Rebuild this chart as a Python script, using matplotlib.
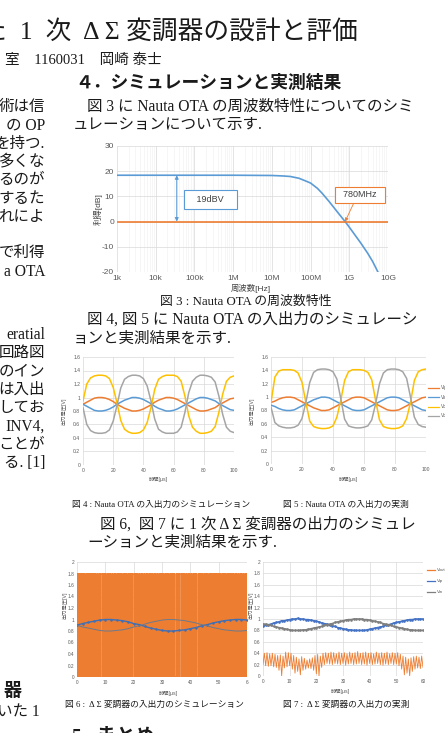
import numpy as np
import matplotlib
matplotlib.use('Agg')
import matplotlib.pyplot as plt
from matplotlib.lines import Line2D
from matplotlib.ticker import LogLocator, NullFormatter

plt.rcParams['axes.unicode_minus'] = False

W, H = 445, 733
SERIF = ['Liberation Serif', 'Noto Sans CJK JP']
SANS = ['Liberation Sans', 'Noto Sans CJK JP']

# ---- fig 3 : Nauta OTA gain vs frequency ----
freq_hz = [1e3, 1e4, 1e5, 1e6, 1e7, 2e7, 3e7, 5e7, 7e7, 1e8, 1.5e8, 2e8, 3e8,
           5e8, 7.8e8, 1e9, 2e9, 3e9, 4e9, 5.5e9, 6e9]
gain_db = [18.4, 18.4, 18.4, 18.4, 18.3, 18.1, 17.9, 17.2, 16.3, 15.3, 13.2,
           11.2, 8.0, 3.7, 0.0, -2.2, -8.6, -12.6, -15.8, -20.0, -21.6]
zero_db = 0.0
freq_ticks = [1e3, 1e4, 1e5, 1e6, 1e7, 1e8, 1e9, 1e10]
freq_labels = ['1k', '10k', '100k', '1M', '10M', '100M', '1G', '10G']
gain_label = '19dBV'
ugf_label = '780MHz'

# ---- fig 4 : Nauta OTA simulation, t = 0..100 us ----
sim_in_p = [0.90, 0.93, 0.96, 0.99, 1.00, 1.00, 0.99, 0.97, 0.94, 0.90,
            0.87, 0.84, 0.82, 0.80, 0.80, 0.81, 0.83, 0.86, 0.89, 0.93,
            0.96, 0.98, 1.00, 1.00, 0.99, 0.97, 0.94, 0.91, 0.88, 0.85,
            0.82, 0.80, 0.80, 0.81, 0.83, 0.85, 0.89, 0.92, 0.95, 0.98, 0.99]
sim_in_n = [0.90, 0.87, 0.84, 0.81, 0.80, 0.80, 0.81, 0.83, 0.86, 0.90,
            0.93, 0.96, 0.98, 1.00, 1.00, 0.99, 0.97, 0.94, 0.91, 0.87,
            0.84, 0.82, 0.80, 0.80, 0.81, 0.83, 0.86, 0.89, 0.92, 0.95,
            0.98, 1.00, 1.00, 0.99, 0.97, 0.95, 0.91, 0.88, 0.85, 0.82, 0.81]
sim_out_p = [0.95, 1.20, 1.29, 1.32, 1.33, 1.33, 1.32, 1.28, 1.15, 0.92,
             0.66, 0.53, 0.49, 0.47, 0.47, 0.48, 0.52, 0.63, 0.85, 1.12,
             1.27, 1.31, 1.33, 1.33, 1.33, 1.31, 1.24, 1.02, 0.73, 0.56,
             0.50, 0.47, 0.47, 0.48, 0.50, 0.57, 0.78, 1.05, 1.24, 1.30, 1.32]
sim_out_n = [0.85, 0.60, 0.51, 0.48, 0.47, 0.47, 0.48, 0.52, 0.65, 0.88,
             1.14, 1.27, 1.31, 1.33, 1.33, 1.32, 1.28, 1.17, 0.95, 0.68,
             0.53, 0.49, 0.47, 0.47, 0.47, 0.49, 0.56, 0.78, 1.07, 1.24,
             1.30, 1.33, 1.33, 1.32, 1.30, 1.23, 1.02, 0.75, 0.56, 0.50, 0.48]

# ---- fig 5 : Nauta OTA measurement, t = 0..100 us ----
meas_in_p = [0.92, 0.94, 0.97, 0.99, 1.00, 1.00, 0.99, 0.96, 0.93, 0.90,
             0.87, 0.84, 0.82, 0.80, 0.80, 0.81, 0.84, 0.87, 0.90, 0.93,
             0.96, 0.99, 1.00, 1.00, 0.99, 0.96, 0.93, 0.90, 0.87, 0.84,
             0.81, 0.80, 0.80, 0.81, 0.84, 0.87, 0.90, 0.93, 0.96, 0.99, 1.00]
meas_in_n = [0.88, 0.86, 0.83, 0.81, 0.80, 0.80, 0.81, 0.84, 0.87, 0.90,
             0.93, 0.96, 0.98, 1.00, 1.00, 0.99, 0.96, 0.93, 0.90, 0.87,
             0.84, 0.81, 0.80, 0.80, 0.81, 0.84, 0.87, 0.90, 0.93, 0.96,
             0.99, 1.00, 1.00, 0.99, 0.96, 0.93, 0.90, 0.87, 0.84, 0.81, 0.80]
meas_out_p = [0.92, 1.30, 1.39, 1.41, 1.41, 1.41, 1.40, 1.36, 1.22, 0.92,
              0.64, 0.56, 0.54, 0.53, 0.53, 0.54, 0.57, 0.70, 0.95, 1.25,
              1.38, 1.41, 1.41, 1.41, 1.40, 1.37, 1.26, 0.95, 0.66, 0.56,
              0.54, 0.53, 0.53, 0.54, 0.57, 0.68, 0.92, 1.25, 1.38, 1.41, 1.42]
meas_out_n = [0.85, 0.62, 0.57, 0.55, 0.54, 0.54, 0.55, 0.58, 0.68, 0.92,
              1.22, 1.37, 1.41, 1.42, 1.42, 1.41, 1.38, 1.27, 0.98, 0.67,
              0.57, 0.55, 0.54, 0.54, 0.55, 0.57, 0.66, 0.90, 1.20, 1.36,
              1.41, 1.42, 1.42, 1.41, 1.38, 1.28, 1.00, 0.70, 0.59, 0.56, 0.55]
ota_legend = ['Vip', 'Vin', 'Vop', 'Von']

# ---- fig 6 : delta-sigma simulation, t = 0..60 us ----
ds_bits = ("101010110101001010101101010100101011010101010010101101010101"
           "010110101010010101011010101001010101101010100101010110101010"
           "100101010110101010010101011010101001010101101010100101010110"
           "101010010101011010101001010101101010100101010110101010010101")
ds_high = 1.8
sim_vip = [0.90, 0.93, 0.95, 0.97, 0.99, 1.00, 1.00, 0.99, 0.98, 0.96,
           0.93, 0.91, 0.88, 0.85, 0.83, 0.81, 0.80, 0.80, 0.81, 0.82,
           0.84, 0.86, 0.89, 0.91, 0.94, 0.96, 0.98, 0.99, 1.00, 1.00, 0.99]
sim_vin = [0.90, 0.87, 0.85, 0.83, 0.81, 0.80, 0.80, 0.81, 0.82, 0.84,
           0.87, 0.89, 0.92, 0.95, 0.97, 0.99, 1.00, 1.00, 0.99, 0.98,
           0.96, 0.94, 0.91, 0.89, 0.86, 0.84, 0.82, 0.81, 0.80, 0.80, 0.81]

# ---- fig 7 : delta-sigma measurement, t = 0..60 us ----
vout = [0.20, 0.40, 0.18, 0.41, 0.17, 0.39, 0.18, 0.40, 0.16, 0.38,
        0.15, 0.36, 0.10, 0.37, 0.00, 0.35, 0.14, 0.42, 0.16, 0.41,
        0.18, 0.40, 0.12, 0.36, 0.05, 0.33, 0.08, 0.30, 0.02, 0.34,
        0.10, 0.31, 0.12, 0.28, 0.14, 0.30, 0.13, 0.32, 0.10, 0.36,
        0.04, 0.38, 0.00, 0.35, 0.15, 0.40, 0.20, 0.41, 0.22, 0.40,
        0.21, 0.42, 0.20, 0.41, 0.22, 0.39, 0.21, 0.42, 0.20, 0.40,
        0.22, 0.41, 0.19, 0.39, 0.21, 0.42, 0.22, 0.40, 0.20, 0.41,
        0.21, 0.43, 0.22, 0.40, 0.20, 0.41, 0.21, 0.42, 0.19, 0.40,
        0.22, 0.41, 0.20, 0.39, 0.21, 0.42, 0.22, 0.40, 0.20, 0.41,
        0.19, 0.40, 0.21, 0.42, 0.20, 0.39, 0.22, 0.41, 0.20, 0.40,
        0.21, 0.41, 0.18, 0.38, 0.12, 0.35, 0.02, 0.33, 0.05, 0.30,
        0.00, 0.32, 0.08, 0.34, 0.12, 0.35, 0.14, 0.33, 0.13, 0.35, 0.15]
vip = [0.87, 0.89, 0.90, 0.91, 0.93, 0.94, 0.95, 0.97, 0.97, 0.98,
       0.99, 1.00, 1.00, 1.01, 1.00, 1.00, 0.99, 0.99, 0.98, 0.97,
       0.96, 0.95, 0.93, 0.92, 0.91, 0.89, 0.88, 0.87, 0.85, 0.84,
       0.83, 0.82, 0.81, 0.81, 0.80, 0.80, 0.80, 0.80, 0.80, 0.81,
       0.82, 0.83, 0.84, 0.85, 0.86, 0.87, 0.89, 0.90, 0.91, 0.93,
       0.94, 0.95, 0.96, 0.97, 0.98, 0.99, 0.99, 1.00, 1.00, 1.00, 1.00]
vin = [0.91, 0.91, 0.90, 0.89, 0.87, 0.86, 0.85, 0.84, 0.83, 0.82,
       0.81, 0.80, 0.80, 0.80, 0.80, 0.81, 0.81, 0.82, 0.83, 0.84,
       0.85, 0.86, 0.87, 0.89, 0.90, 0.91, 0.92, 0.94, 0.95, 0.96,
       0.97, 0.98, 0.99, 0.99, 1.00, 1.00, 1.00, 1.00, 0.99, 0.99,
       0.98, 0.97, 0.96, 0.95, 0.94, 0.92, 0.91, 0.90, 0.89, 0.87,
       0.86, 0.85, 0.84, 0.83, 0.82, 0.81, 0.81, 0.80, 0.80, 0.80, 0.80]
ds_legend = ['Vout', 'Vip', 'Vin']

ORANGE = '#ED7D31'
BLUE = '#5B9BD5'
YELLOW = '#FFC000'
GRAY = '#A5A5A5'
GRID = '#D9D9D9'
TICK = '#595959'


def box(l, t, r, b):
    return [l / W, 1 - b / H, (r - l) / W, (b - t) / H]


fig = plt.figure(figsize=(W / 100, H / 100), dpi=100)
fig.patch.set_facecolor('white')


def T(x, y, s, size=11.2, ha='left', family=SERIF, **kw):
    return fig.text(x / W, 1 - y / H, s, ha=ha, va='center', fontsize=size,
                    family=family, color=kw.pop('color', '#1a1a1a'), **kw)


def excel_style(ax, fs):
    for s in ax.spines.values():
        s.set_visible(False)
    ax.grid(True, color=GRID, lw=0.5)
    ax.set_axisbelow(True)
    ax.tick_params(length=0, labelsize=fs, colors=TICK, pad=2)
    for lab in ax.get_xticklabels() + ax.get_yticklabels():
        lab.set_family(SANS)


# ---------------- page text ----------------
T(358, 32, 'た  1  次  Δ Σ 変調器の設計と評価', size=18.5, ha='right')
T(162, 60, '室　1160031　岡崎 泰士', size=10.5, ha='right')
T(75, 83, '４．シミュレーションと実測結果', size=12.8, weight='bold')

T(87, 107, '図 3 に Nauta OTA の周波数特性についてのシミ')
T(73, 125.5, 'ュレーションについて示す.')

left_top = ['術は信', 'の OP', 'を持つ.', '多くな', 'るのが', 'するた', 'れによ',
            '', 'で利得', 'a OTA']
for i, s in enumerate(left_top):
    T(45, 107 + 18.3 * i, s, ha='right')
left_bot = ['eratial', '回路図', 'のイン', 'は入出', 'してお', 'INV4,',
            'ことが', 'る. [1]']
for i, s in enumerate(left_bot):
    T(45, 335 + 18.3 * i, s, ha='right')
T(22, 691, '器', size=13, ha='right', weight='bold')
T(40, 713, 'いた 1', ha='right')

T(160, 302, '図 3 : Nauta OTA の周波数特性', size=9.3)
T(87, 320, '図 4, 図 5 に Nauta OTA の入出力のシミュレーシ')
T(73, 339, 'ョンと実測結果を示す.')
T(72, 505, '図 4 : Nauta OTA の入出力のシミュレーション', size=6.3)
T(283, 505, '図 5 : Nauta OTA の入出力の実測', size=6.3)
T(100, 525, '図 6,  図 7 に 1 次 Δ Σ 変調器の出力のシミュレ')
T(87, 543, 'ーションと実測結果を示す.')
T(65, 705, '図 6 :  Δ Σ 変調器の入出力のシミュレーション', size=6.3)
T(283, 705, '図 7 :  Δ Σ 変調器の入出力の実測', size=6.3)
T(72, 737, '5.  まとめ', size=14, weight='bold')

# ---------------- fig 3 ----------------
ax3 = fig.add_axes(box(117, 146, 388, 272))
ax3.semilogx(freq_hz, gain_db, color=BLUE, lw=1.2, zorder=3)
ax3.axhline(zero_db, color=ORANGE, lw=1.2, zorder=3)
ax3.set_xlim(1e3, 1e10)
ax3.set_ylim(-20, 30)
ax3.set_xticks(freq_ticks, freq_labels)
ax3.set_yticks(range(-20, 31, 10))
ax3.xaxis.set_minor_locator(LogLocator(base=10, subs=np.arange(2, 10)))
ax3.xaxis.set_minor_formatter(NullFormatter())
excel_style(ax3, 6)
ax3.grid(True, which='minor', axis='x', color='#EFEFEF', lw=0.4)
ax3.tick_params(which='minor', length=0)
ax3.annotate('', xy=(3.5e4, gain_db[0]), xytext=(3.5e4, zero_db),
             arrowprops=dict(arrowstyle='<|-|>', color=BLUE, lw=0.8,
                             mutation_scale=5, shrinkA=0, shrinkB=0))
ax3.text(2.6e5, 8.9, '   ' + gain_label + '   ', ha='center', va='center',
         fontsize=6.5, family=SANS, color='#404040', zorder=4,
         bbox=dict(boxstyle='square,pad=0.55', fc='white', ec=BLUE, lw=0.8))
ax3.text(1.85e9, 10.6, '  ' + ugf_label + '  ', ha='center', va='center',
         fontsize=6.5, family=SANS, color='#404040', zorder=4,
         bbox=dict(boxstyle='square,pad=0.35', fc='white', ec=ORANGE, lw=0.8))
ax3.annotate('', xy=(7.8e8, zero_db), xytext=(1.3e9, 7.3),
             arrowprops=dict(arrowstyle='-|>', color=ORANGE, lw=0.6,
                             mutation_scale=5, shrinkA=0, shrinkB=0))
T(98, 209, '利得[dB]', size=6, family=SANS, rotation=90, ha='center',
  color='#404040')
T(251, 288, '周波数[Hz]', size=6, family=SANS, ha='center', color='#404040')

# ---------------- fig 4 / fig 5 ----------------
ota_sets = [
    (box(83, 357, 234, 465), [sim_in_p, sim_in_n, sim_out_p, sim_out_n], 64, 158),
    (box(271, 357, 426, 464), [meas_in_p, meas_in_n, meas_out_p, meas_out_n], 252, 348),
]
ota_colors = [ORANGE, BLUE, YELLOW, GRAY]
for rect, series, ylab_x, xlab_x in ota_sets:
    ax = fig.add_axes(rect)
    for vals, c in zip(series, ota_colors):
        ax.plot(np.linspace(0, 100, len(vals)), vals, color=c, lw=1.1)
    ax.set_xlim(0, 100)
    ax.set_ylim(0, 1.6)
    ax.set_xticks(range(0, 101, 20))
    yt = np.round(np.arange(0, 1.61, 0.2), 1)
    ax.set_yticks(yt, ['%g' % v for v in yt])
    excel_style(ax, 3.6)
    T(ylab_x, 411, '出力電圧[V]', size=3.8, family=SANS, rotation=90,
      ha='center', color=TICK)
    T(xlab_x, 479, '時間[μs]', size=3.8, family=SANS, ha='center', color=TICK)

for i, (c, lab) in enumerate(zip(ota_colors, ota_legend)):
    y = 388 + 9.3 * i
    fig.add_artist(Line2D([428 / W, 439 / W], [1 - y / H] * 2, color=c, lw=0.9))
    T(441, y, lab, size=3.4, family=SANS, color=TICK)

# ---------------- fig 6 ----------------
ax6 = fig.add_axes(box(77, 562, 247, 677))
levels = [ds_high if b == '1' else 0.0 for b in ds_bits]
t_bits = np.linspace(0, 60, len(levels))
ax6.step(t_bits, levels, where='post', color=ORANGE, lw=1.2, zorder=2)
ax6.plot(np.linspace(0, 60, len(sim_vip)), sim_vip, color='#3F6FB5', lw=1.0,
         marker='.', ms=1.6, zorder=3)
ax6.plot(np.linspace(0, 60, len(sim_vin)), sim_vin, color='#6D7A8C', lw=0.7,
         zorder=3)
ax6.set_xlim(0, 60)
ax6.set_ylim(0, 2)
ax6.set_xticks(range(0, 61, 10), ['0', '10', '20', '30', '40', '50', '6'])
yt = np.round(np.arange(0, 2.01, 0.2), 1)
ax6.set_yticks(yt, ['%g' % v for v in yt])
excel_style(ax6, 3.4)
T(65, 605, '出力電圧[V]', size=3.8, family=SANS, rotation=90, ha='center',
  color=TICK)
T(168, 694, '時間[μs]', size=3.8, family=SANS, ha='center', color=TICK)

# ---------------- fig 7 ----------------
ax7 = fig.add_axes(box(263, 562, 423, 676))
ax7.plot(np.linspace(0, 60, len(vout)), vout, color=ORANGE, lw=0.6)
ax7.plot(np.linspace(0, 60, len(vip)), vip, color='#4472C4', lw=1.1,
         marker='.', ms=1.8)
ax7.plot(np.linspace(0, 60, len(vin)), vin, color='#7F7F7F', lw=1.1,
         marker='.', ms=1.8)
ax7.set_xlim(0, 60)
ax7.set_ylim(0, 2)
ax7.set_xticks(range(0, 61, 10))
ax7.set_yticks(yt, ['%g' % v for v in yt])
excel_style(ax7, 3.4)
T(251, 605, '出力電圧[V]', size=3.8, family=SANS, rotation=90, ha='center',
  color=TICK)
T(340, 691, '時間[μs]', size=3.8, family=SANS, ha='center', color=TICK)
for i, (c, lab) in enumerate(zip([ORANGE, '#4472C4', '#7F7F7F'], ds_legend)):
    y = 570 + 11 * i
    fig.add_artist(Line2D([427 / W, 435 / W], [1 - y / H] * 2, color=c, lw=0.9))
    T(437, y, lab, size=3.2, family=SANS, color=TICK)

fig.savefig('out.png', dpi=100, facecolor='white')
